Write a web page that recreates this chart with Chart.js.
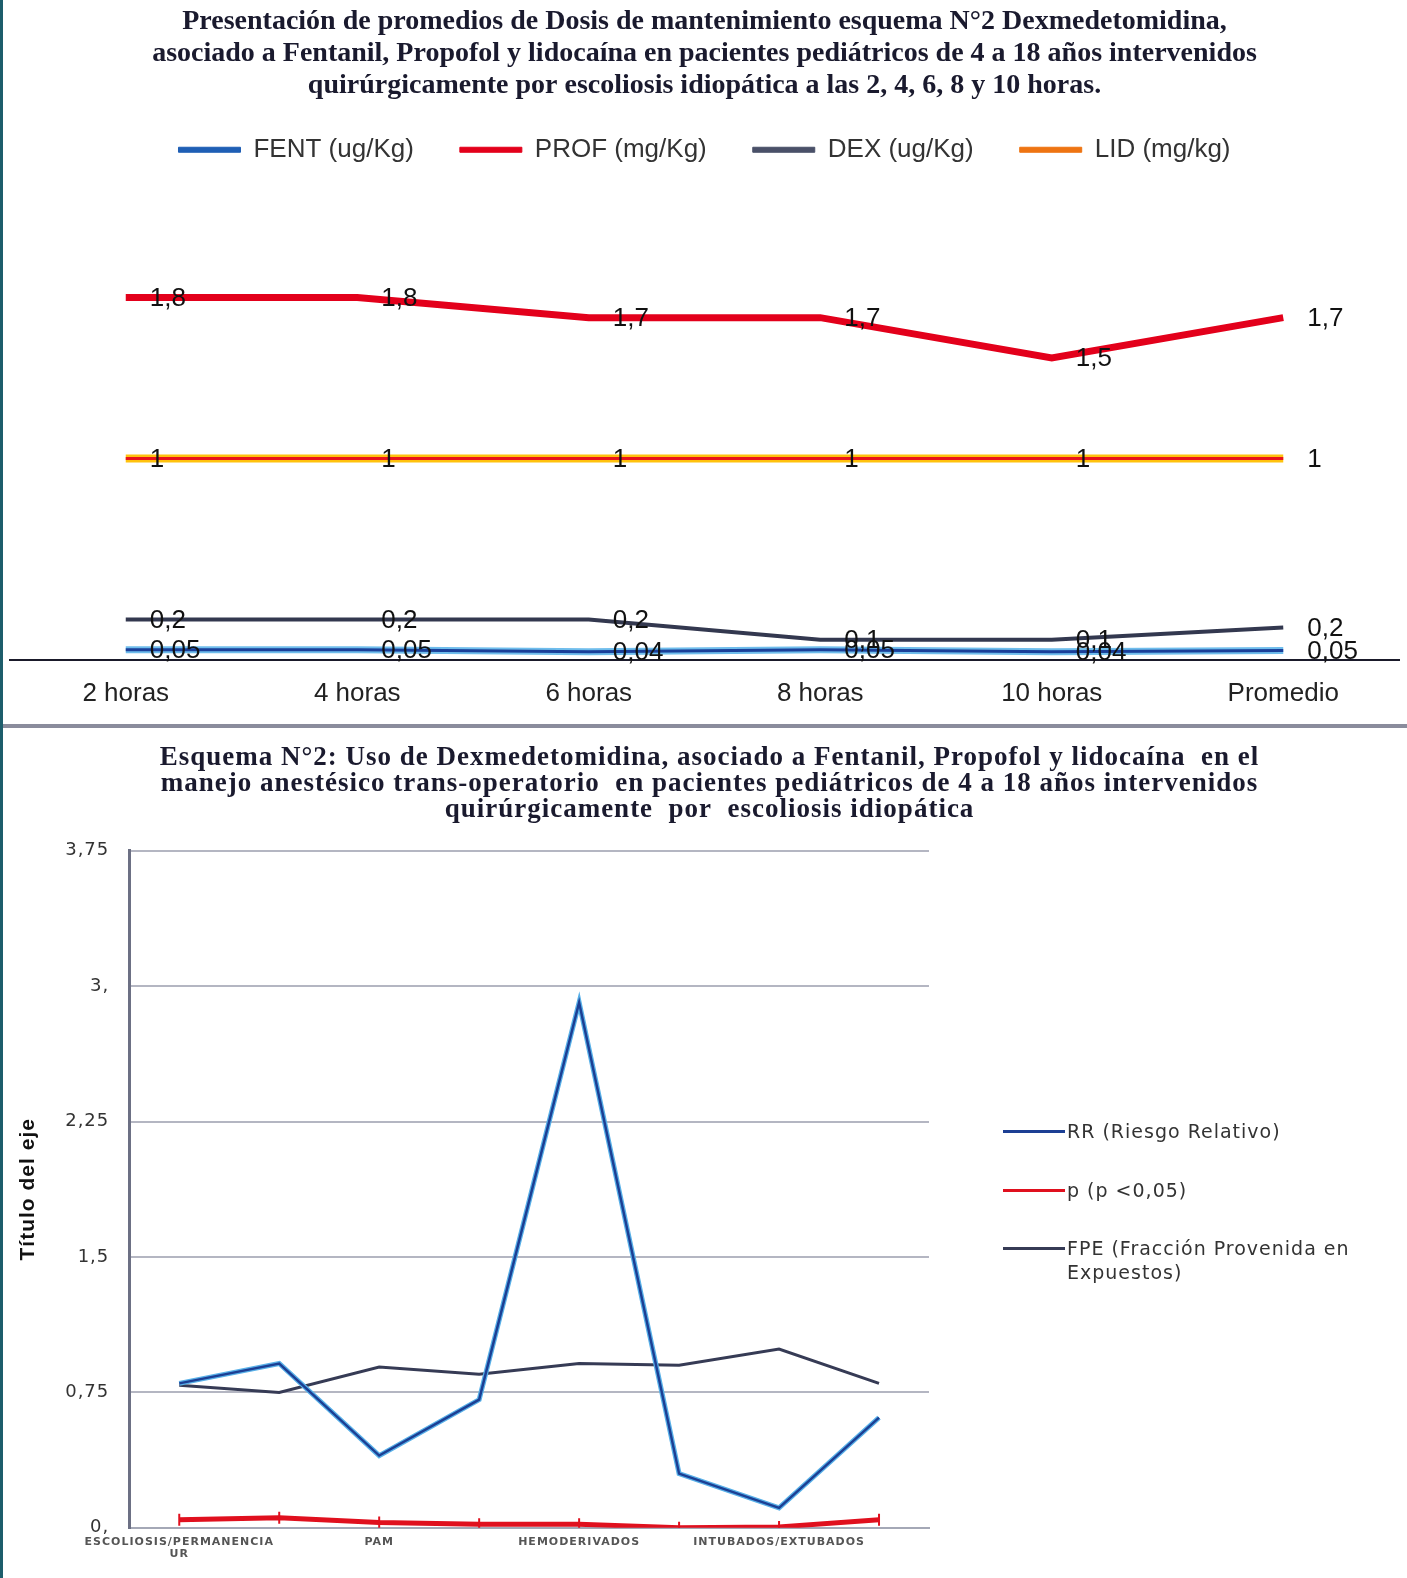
<!DOCTYPE html>
<html>
<head>
<meta charset="utf-8">
<script src="https://cdn.jsdelivr.net/npm/chart.js@4.4.1/dist/chart.umd.min.js"></script>
<style>
  body { margin: 0; background: #fff; width: 1407px; height: 1578px; position: relative; overflow: hidden; }
  #topBox { position: absolute; left: 0; top: 0; width: 1407px; height: 719px; }
  #sep { position: absolute; left: 0; top: 724px; width: 1407px; height: 4px; background: #8a8c9c; }
  #bottomBox { position: absolute; left: 0; top: 728px; width: 1407px; height: 850px; }
  #edge { position: absolute; left: 0; top: 0; width: 3px; height: 1578px; background: #1d5d6b; }
  .leg { position: absolute; left: 1003px; font: 19px "DejaVu Sans"; letter-spacing: 1px; color: #333; }
  .leg i { position: absolute; left: 0; top: 0; width: 62px; height: 3px; }
  .leg span { position: absolute; left: 64px; white-space: nowrap; line-height: 24px; }
</style>
</head>
<body>
<div id="topBox"><canvas id="topChart"></canvas></div>
<div id="sep"></div>
<div id="bottomBox"><canvas id="bottomChart"></canvas></div>
<div id="edge"></div>

<div class="leg" style="top:1130px"><i style="background:#1c3f94"></i><span style="top:-11px">RR (Riesgo Relativo)</span></div>
<div class="leg" style="top:1189px"><i style="background:#e0101e"></i><span style="top:-11px">p (p &lt;0,05)</span></div>
<div class="leg" style="top:1247px"><i style="background:#363b55"></i><span style="top:-11px">FPE (Fracción Provenida en<br>Expuestos)</span></div>

<script>
// --- grafico 1: dosis de mantenimiento ---
const horas = ['2 horas', '4 horas', '6 horas', '8 horas', '10 horas', 'Promedio'];
const fent = [0.05, 0.05, 0.04, 0.05, 0.04, 0.046];
const prof = [1.8, 1.8, 1.7, 1.7, 1.5, 1.7];
const dex = [0.2, 0.2, 0.2, 0.1, 0.1, 0.16];
const lid = [1, 1, 1, 1, 1, 1];

// --- grafico 2: esquema N°2 ---
const variables = [
  ['ESCOLIOSIS/PERMANENCIA', 'UR'], '', 'PAM', '', 'HEMODERIVADOS', '', 'INTUBADOS/EXTUBADOS', ''
];
const rr = [0.80, 0.91, 0.40, 0.71, 2.91, 0.30, 0.11, 0.61];
const pValor = [0.045, 0.055, 0.03, 0.02, 0.02, 0.0, 0.005, 0.045];
const fpe = [0.79, 0.75, 0.89, 0.85, 0.91, 0.90, 0.99, 0.80];
const ejeTicks = [0, 0.75, 1.5, 2.25, 3, 3.75];

// etiquetas de valor a la derecha de cada punto
const pointLabels = {
  id: 'pointLabels',
  afterDatasetsDraw(chart) {
    const ctx = chart.ctx;
    ctx.save();
    ctx.font = '26px "Liberation Sans"';
    ctx.fillStyle = '#111';
    ctx.textBaseline = 'middle';
    ctx.textAlign = 'left';
    chart.data.datasets.forEach((ds, i) => {
      if (ds.decimals === undefined) return;
      chart.getDatasetMeta(i).data.forEach((pt, j) => {
        const txt = ds.data[j].toFixed(ds.decimals).replace('.', ',');
        ctx.fillText(txt, pt.x + 24, pt.y + 1);
      });
    });
    ctx.restore();
  }
};

// texto espaciado como en el original (titulo y ejes)
const spacing = {
  id: 'spacing',
  beforeDraw(chart) { chart.ctx.letterSpacing = '1px'; },
  beforeDatasetsDraw(chart) { chart.ctx.letterSpacing = '0px'; }
};

const base = { pointRadius: 0, pointHoverRadius: 0, tension: 0, fill: false };

new Chart(document.getElementById('topChart'), {
  type: 'line',
  data: {
    labels: horas,
    datasets: [
      { ...base, label: 'FENT (ug/Kg)', data: fent, borderColor: '#6fbdec', backgroundColor: '#1f5fb5', borderWidth: 7, decimals: 2, order: 1 },
      { ...base, label: 'PROF (mg/Kg)', data: prof, borderColor: '#e3001b', backgroundColor: '#e3001b', borderWidth: 7, decimals: 1, order: 1 },
      { ...base, label: 'DEX (ug/Kg)', data: dex, borderColor: '#33384f', backgroundColor: '#4a5068', borderWidth: 4, decimals: 1, order: 1 },
      { ...base, label: 'LID (mg/kg)', data: lid, borderColor: '#ffc20e', backgroundColor: '#ee7412', borderWidth: 8, decimals: 0, order: 1 },
      { ...base, label: '', data: fent, borderColor: '#1a3f99', borderWidth: 3, order: 0 },
      { ...base, label: '', data: lid, borderColor: '#e8141b', borderWidth: 3, order: 0 }
    ]
  },
  options: {
    responsive: true,
    maintainAspectRatio: false,
    animation: false,
    layout: { padding: { left: 10, right: 8, top: 6, bottom: 0 } },
    plugins: {
      title: {
        display: true,
        text: [
          'Presentación de promedios de Dosis de mantenimiento esquema N°2 Dexmedetomidina,',
          'asociado a Fentanil, Propofol y lidocaína en pacientes pediátricos de 4 a 18 años intervenidos',
          'quirúrgicamente por escoliosis idiopática a las 2, 4, 6, 8 y 10 horas.'
        ],
        color: '#1a1a2e',
        font: { family: '"Liberation Serif"', size: 28, weight: 'bold', lineHeight: 1.14 },
        padding: { top: 0, bottom: -11 }
      },
      legend: {
        display: true,
        labels: {
          generateLabels(chart) {
            const items = Chart.defaults.plugins.legend.labels.generateLabels(chart);
            items.forEach(it => { it.strokeStyle = it.fillStyle; it.lineWidth = 1; });
            return items;
          },
          filter: item => item.text !== '',
          boxWidth: 62,
          boxHeight: 5,
          padding: 46,
          color: '#333',
          font: { family: '"Liberation Sans"', size: 26 }
        }
      },
      tooltip: { enabled: false }
    },
    scales: {
      x: {
        offset: true,
        grid: { display: false },
        border: { display: true, color: '#1a1a2a', width: 2 },
        ticks: { color: '#222', padding: 10, font: { family: '"Liberation Sans"', size: 26 } }
      },
      y: { display: false, min: 0, max: 2.42 }
    }
  },
  plugins: [pointLabels]
});

new Chart(document.getElementById('bottomChart'), {
  type: 'line',
  data: {
    labels: variables,
    datasets: [
      { ...base, label: 'RR (Riesgo Relativo)', data: rr, borderColor: '#58b0e8', borderWidth: 5, order: 2 },
      { ...base, label: 'RR', data: rr, borderColor: '#1c3f94', borderWidth: 2.5, order: 1 },
      { ...base, label: 'p (p <0,05)', data: pValor, borderColor: '#e0101e', borderWidth: 5,
        pointStyle: 'line', pointRotation: 90, pointRadius: 6, pointBorderColor: '#e0101e', pointBorderWidth: 2, order: 0 },
      { ...base, label: 'FPE (Fracción Provenida en Expuestos)', data: fpe, borderColor: '#363b55', borderWidth: 3, order: 3 }
    ]
  },
  options: {
    responsive: true,
    maintainAspectRatio: false,
    animation: false,
    layout: { padding: { left: 12, right: 0, top: 17, bottom: 18 } },
    plugins: {
      title: {
        display: true,
        text: [
          'Esquema N°2: Uso de Dexmedetomidina, asociado a Fentanil, Propofol y lidocaína  en el',
          'manejo anestésico trans-operatorio  en pacientes pediátricos de 4 a 18 años intervenidos',
          'quirúrgicamente  por  escoliosis idiopática'
        ],
        color: '#1a1a2e',
        font: { family: '"Liberation Serif"', size: 27, weight: 'bold', lineHeight: 0.96 },
        padding: { top: 0, bottom: 28 }
      },
      legend: { display: false },
      tooltip: { enabled: false }
    },
    scales: {
      x: {
        offset: true,
        grid: { display: false },
        border: { display: true, color: '#a4a8b6', width: 2 },
        ticks: {
          autoSkip: false, maxRotation: 0, color: '#555', padding: 0,
          font: { family: '"DejaVu Sans"', size: 11, weight: 'bold', lineHeight: 1.1 }
        }
      },
      y: {
        min: 0,
        max: 3.75,
        afterBuildTicks: scale => { scale.ticks = ejeTicks.map(v => ({ value: v })); },
        grid: { color: '#b4b6c2', lineWidth: 2, drawTicks: false },
        border: { display: true, color: '#6c7084', width: 3 },
        title: {
          display: true, text: 'Título del eje', color: '#111',
          font: { family: '"Liberation Sans"', size: 21, weight: 'bold' }, padding: { bottom: 8 }
        },
        ticks: {
          color: '#333', padding: 20,
          font: { family: '"DejaVu Sans"', size: 18 },
          callback: v => Number.isInteger(v) ? v + ',' : String(v).replace('.', ',')
        }
      },
      // espacio reservado para la leyenda de la derecha
      y2: {
        position: 'right',
        grid: { display: false },
        border: { display: false },
        ticks: { display: false },
        afterFit: s => { s.width = 478; }
      }
    }
  },
  plugins: [spacing]
});
</script>
</body>
</html>
